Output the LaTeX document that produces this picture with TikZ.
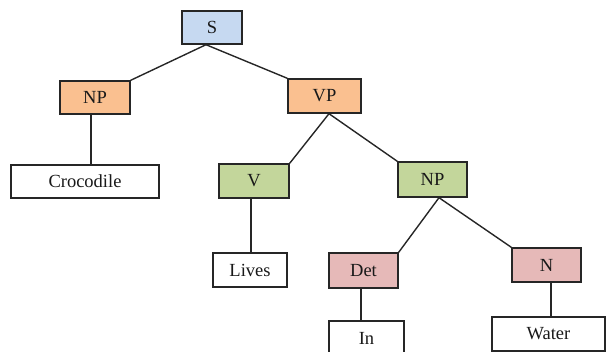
\documentclass[tikz,border=0pt]{standalone}
\usepackage{fontspec}
\setmainfont{Liberation Serif}
\definecolor{sblue}{HTML}{C6D9F1}
\definecolor{porange}{HTML}{FAC090}
\definecolor{vgreen}{HTML}{C3D69B}
\definecolor{dpink}{HTML}{E6B9B8}
\definecolor{edge}{HTML}{262626}
\begin{document}
\begin{tikzpicture}[x=1pt,y=-1pt,
  box/.style={draw=edge,line width=1.4pt,rectangle,inner sep=0pt,
    font=\fontsize{18.5}{21}\selectfont,text=black!90},
  link/.style={draw=edge,line width=1.4pt}]
\useasboundingbox (0,0) rectangle (606,352);
\node[box,fill=sblue,minimum width=60pt,minimum height=33pt] (S) at (212,27.5) {S};
\node[box,fill=porange,minimum width=70pt,minimum height=33pt] (NPa) at (95,97.5) {NP};
\node[box,fill=white,minimum width=148pt,minimum height=33pt] (Croc) at (85,181.5) {Crocodile};
\node[box,fill=porange,minimum width=73pt,minimum height=34pt] (VP) at (324.5,96) {VP};
\node[box,fill=vgreen,minimum width=70pt,minimum height=34pt] (V) at (254,181) {V};
\node[box,fill=vgreen,minimum width=69pt,minimum height=35pt] (NPb) at (432.5,179.5) {NP};
\node[box,fill=white,minimum width=74pt,minimum height=34pt] (Lives) at (250,270) {Lives};
\node[box,fill=dpink,minimum width=69pt,minimum height=35pt] (Det) at (363.5,270.5) {Det};
\node[box,fill=dpink,minimum width=69pt,minimum height=34pt] (N) at (546.5,265) {N};
\node[box,fill=white,minimum width=75pt,minimum height=34pt] (In) at (366.5,338) {In};
\node[box,fill=white,minimum width=113pt,minimum height=34pt] (Water) at (548.5,334) {Water};
\draw[link] ([xshift=-6pt]S.south) -- (NPa.north east);
\draw[link] ([xshift=-6pt]S.south) -- (VP.north west);
\draw[link] ([xshift=4.5pt]VP.south) -- (V.north east);
\draw[link] ([xshift=4.5pt]VP.south) -- (NPb.north west);
\draw[link] ([xshift=6.5pt]NPb.south) -- (Det.north east);
\draw[link] ([xshift=6.5pt]NPb.south) -- (N.north west);
\draw[link] ([xshift=-4pt]NPa.south) -- ([xshift=-4pt]NPa.south |- Croc.north);
\draw[link] ([xshift=-3pt]V.south) -- ([xshift=-3pt]V.south |- Lives.north);
\draw[link] ([xshift=-2.5pt]Det.south) -- ([xshift=-2.5pt]Det.south |- In.north);
\draw[link] ([xshift=4.5pt]N.south) -- ([xshift=4.5pt]N.south |- Water.north);
\end{tikzpicture}
\end{document}
